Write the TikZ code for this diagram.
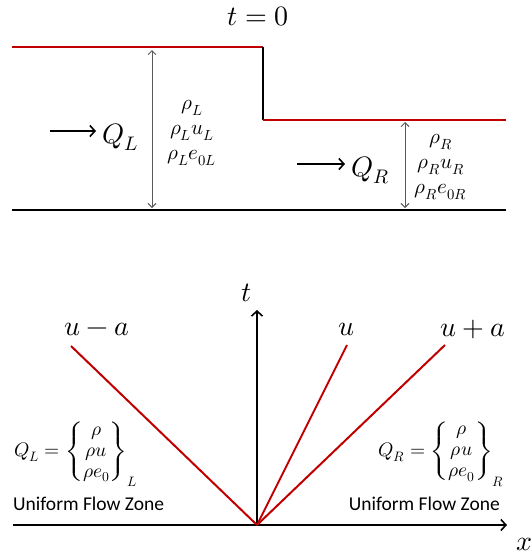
\documentclass[tikz,border=0pt]{standalone}
\usepackage{fontspec}
\usepackage{amsmath}
\usepackage{unicode-math}
\setmathfont{Latin Modern Math}
\newfontfamily\labelfont{Carlito}
\usetikzlibrary{arrows.meta}
\definecolor{wred}{RGB}{192,0,0}
\tikzset{
  redline/.style={draw=wred,line width=2.2pt},
  blackline/.style={draw=black,line width=2.2pt},
  dimarrow/.style={draw=black!65,line width=0.9pt,{Straight Barb[length=4pt,width=8pt]}-{Straight Barb[length=4pt,width=8pt]}},
  flowarrow/.style={draw=black,line width=1.6pt,-{Straight Barb[length=5pt,width=11pt]}},
  axis/.style={draw=black,line width=1.6pt,-{Straight Barb[length=5pt,width=11pt]}},
  wave/.style={draw=wred,line width=2pt},
  bigmath/.style={inner sep=0pt,font=\fontsize{28}{32}\selectfont},
  midmath/.style={inner sep=0pt,font=\fontsize{21}{25}\selectfont},
  vecmath/.style={inner sep=0pt,font=\fontsize{19.5}{22}\selectfont},
  zone/.style={inner sep=0pt,font=\labelfont\fontsize{19.5}{22}\selectfont},
}
\begin{document}
\begin{tikzpicture}[x=1pt,y=-1pt]
\useasboundingbox (0,0) rectangle (532,560);
% ---------- top: t = 0 ----------
\node[bigmath] (title) at (258,16) {$t=0$};
\coordinate (tl) at (12,47);
\coordinate (tm) at (263,47);
\coordinate (bm) at (263,120);
\coordinate (tr) at (506,120);
\coordinate (gl) at (12,210);
\coordinate (gr) at (506,210);
\draw[redline] (tl) -- (tm);
\draw[blackline] (tm) -- (bm);
\draw[redline] (bm) -- (tr);
\draw[blackline] (gl) -- (gr);
\coordinate (la) at (152,50);
\coordinate (lb) at (152,208);
\draw[dimarrow] (la) -- (lb);
\coordinate (ra) at (405,122);
\coordinate (rb) at (405,208);
\draw[dimarrow] (ra) -- (rb);
\coordinate (qla) at (50,131);
\coordinate (qlb) at (96,131);
\draw[flowarrow] (qla) -- (qlb);
\node[bigmath,anchor=west] (QL) at (102,137) {$Q_L$};
\coordinate (qra) at (297,164);
\coordinate (qrb) at (345,164);
\draw[flowarrow] (qra) -- (qrb);
\node[bigmath,anchor=west] (QR) at (351,170) {$Q_R$};
\node[midmath,align=center] (sl) at (192,133) {$\rho_L$\\$\rho_L u_L$\\$\rho_L e_{0L}$};
\node[midmath,align=center] (sr) at (441,167) {$\rho_R$\\$\rho_R u_R$\\$\rho_R e_{0R}$};
% ---------- bottom: x-t diagram ----------
\coordinate (O) at (257,525);
\coordinate (xl) at (13,525);
\coordinate (xr) at (507,525);
\coordinate (tt) at (257,310);
\draw[axis] (xl) -- (xr);
\draw[axis] (O) -- (tt);
\node[bigmath] (xlab) at (525,544) {$x$};
\node[bigmath] (tlab) at (247,293) {$t$};
\coordinate (wa) at (71,346);
\coordinate (wb) at (347,345);
\coordinate (wc) at (445,345);
\draw[wave] (O) -- (wa);
\draw[wave] (O) -- (wb);
\draw[wave] (O) -- (wc);
\node[bigmath] (lwa) at (97,329) {$u-a$};
\node[bigmath] (lwb) at (347,329) {$u$};
\node[bigmath] (lwc) at (473,329) {$u+a$};
\node[vecmath,anchor=west] (QLv) at (14,453) {$Q_L=\left\{\begin{matrix}\rho\\[-1pt] \rho u\\[-1pt] \rho e_0\end{matrix}\right\}_L$};
\node[vecmath,anchor=east] (QRv) at (504,453) {$Q_R=\left\{\begin{matrix}\rho\\[-1pt] \rho u\\[-1pt] \rho e_0\end{matrix}\right\}_R$};
\node[zone,anchor=west] (zl) at (13,504) {Uniform Flow Zone};
\node[zone,anchor=east] (zr) at (500,504) {Uniform Flow Zone};
\end{tikzpicture}
\end{document}
